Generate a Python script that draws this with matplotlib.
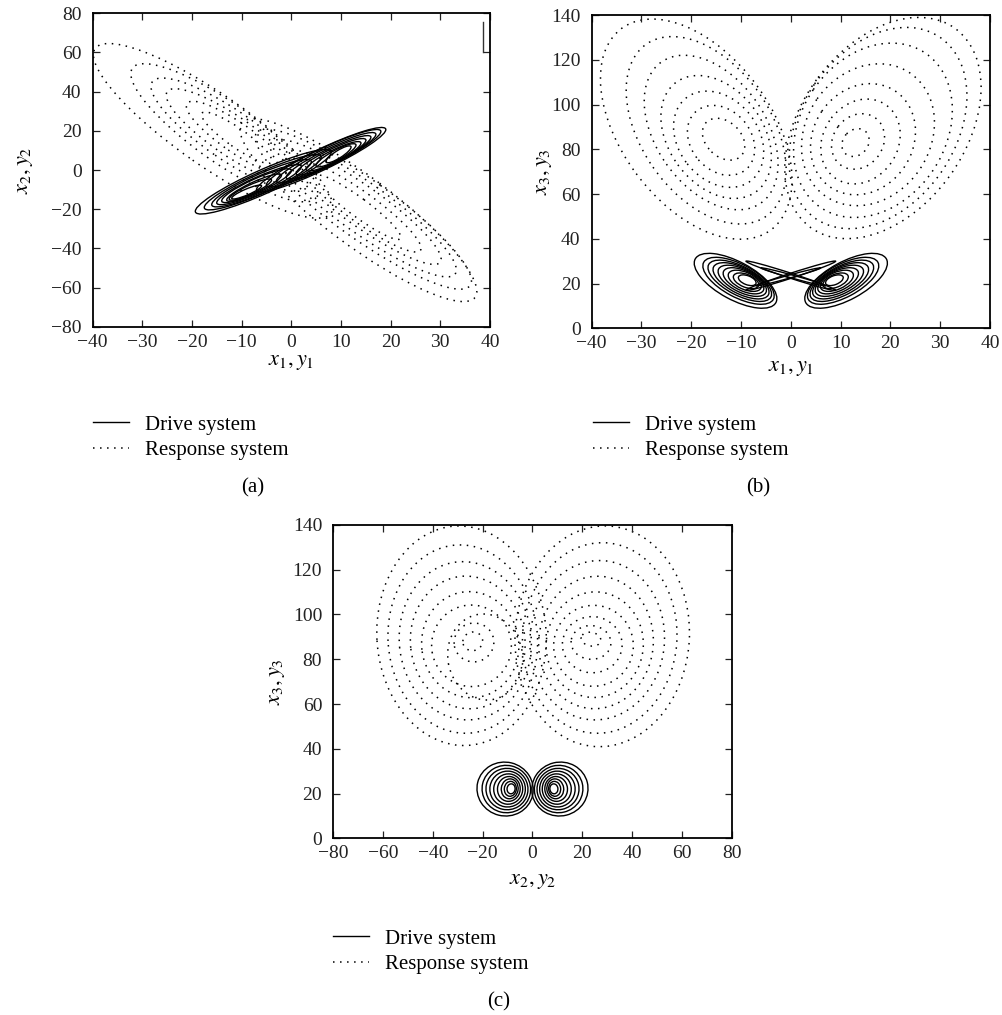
import math

import matplotlib
matplotlib.use("Agg")
import matplotlib.pyplot as plt
from matplotlib.lines import Line2D
from matplotlib.patches import Ellipse
from matplotlib.transforms import Affine2D

plt.rcParams["font.family"] = ["Liberation Serif", "DejaVu Serif"]
plt.rcParams["mathtext.fontset"] = "stix"
plt.rcParams["font.size"] = 14

FIG_W, FIG_H = 10.03, 10.15

# ---- trajectory loops -------------------------------------------------------
# Each loop of an attractor is stored as its two tips (data coords) and its
# half width (in x-axis units, measured on screen across the loop).

# (a)  x1,y1 vs x2,y2
A_DRIVE_LOOPS = [
    ((-19.3, -21.5), (8.0, 9.5), 2.4),
    ((-17.5, -19.5), (6.0, 7.0), 2.1),
    ((-16.0, -18.0), (4.0, 4.5), 1.9),
    ((-15.0, -17.0), (2.0, 2.0), 1.6),
    ((-14.0, -16.0), (0.0, 0.0), 1.4),
    ((-13.0, -15.5), (-2.0, -2.5), 1.1),
    ((-12.5, -15.0), (-4.0, -5.0), 0.9),
    ((-12.0, -14.5), (-6.0, -8.0), 0.6),
    ((19.0, 21.0), (-7.0, -10.5), 2.1),
    ((18.0, 20.0), (-5.0, -8.0), 1.95),
    ((17.0, 18.5), (-3.0, -6.0), 1.75),
    ((16.0, 17.0), (-1.0, -4.0), 1.55),
    ((15.0, 15.5), (1.0, -2.0), 1.4),
    ((14.0, 14.0), (3.0, 0.0), 1.2),
    ((13.0, 13.0), (5.0, 2.0), 1.0),
    ((12.0, 12.0), (7.0, 4.0), 0.75),
]
A_RESPONSE_LOOPS = [
    ((-39.5, 62.0), (8.0, -22.0), 7.2),
    ((-32.0, 52.0), (5.0, -14.0), 6.0),
    ((-28.0, 45.0), (3.0, -9.0), 5.0),
    ((-25.0, 40.0), (1.0, -5.0), 4.0),
    ((-21.0, 34.0), (-1.0, -1.0), 3.0),
    ((-18.0, 29.0), (-4.0, 4.0), 1.9),
    ((37.0, -65.0), (-10.0, 24.0), 6.9),
    ((36.0, -59.0), (-7.0, 19.0), 5.9),
    ((33.0, -53.0), (-4.0, 14.0), 5.0),
    ((30.0, -47.0), (-1.0, 9.0), 4.0),
    ((26.0, -41.0), (2.0, 3.0), 3.0),
    ((22.0, -35.0), (5.0, -3.0), 1.9),
]
A_STROKE_X = [38.6, 38.6]
A_STROKE_Y = [75.5, 60.0]

# (b)  x1,y1 vs x3,y3
B_DRIVE_LOOPS = [
    ((-19.2, 31.0), (-3.0, 11.5), 3.8),
    ((-17.5, 29.5), (-3.5, 13.0), 3.3),
    ((-16.5, 28.5), (-4.0, 14.0), 2.9),
    ((-15.5, 27.5), (-4.5, 15.0), 2.6),
    ((-14.5, 26.5), (-5.0, 16.0), 2.3),
    ((-13.5, 25.5), (-5.5, 17.0), 2.0),
    ((-12.5, 24.5), (-6.0, 18.0), 1.7),
    ((-11.5, 23.5), (-6.5, 19.0), 1.3),
    ((-10.5, 23.0), (-7.0, 20.0), 0.9),
    ((19.2, 31.0), (3.0, 11.5), 3.8),
    ((17.5, 29.5), (3.5, 13.0), 3.3),
    ((16.5, 28.5), (4.0, 14.0), 2.9),
    ((15.5, 27.5), (4.5, 15.0), 2.6),
    ((14.5, 26.5), (5.0, 16.0), 2.3),
    ((13.5, 25.5), (5.5, 17.0), 2.0),
    ((12.5, 24.5), (6.0, 18.0), 1.7),
    ((11.5, 23.5), (6.5, 19.0), 1.3),
    ((10.5, 23.0), (7.0, 20.0), 0.9),
    ((-9.0, 30.0), (9.0, 17.0), 0.5),
    ((9.0, 30.0), (-9.0, 17.0), 0.5),
    ((-6.0, 27.0), (7.0, 19.0), 0.3),
    ((6.0, 27.0), (-7.0, 19.0), 0.3),
]
B_RESPONSE_LOOPS = [
    ((-34.0, 134.0), (-4.0, 44.0), 15.0),
    ((-29.0, 127.0), (-5.0, 50.0), 13.0),
    ((-26.0, 119.0), (-6.0, 56.0), 11.0),
    ((-23.0, 110.0), (-7.0, 61.0), 9.5),
    ((-21.0, 103.0), (-8.0, 66.0), 8.0),
    ((-19.0, 97.0), (-9.0, 71.0), 6.0),
    ((-17.0, 92.0), (-10.0, 77.0), 3.5),
    ((33.0, 134.0), (4.0, 45.0), 16.5),
    ((30.0, 130.0), (5.0, 49.0), 15.5),
    ((27.0, 123.0), (6.0, 54.0), 14.5),
    ((24.0, 114.0), (7.0, 59.0), 12.5),
    ((21.0, 106.0), (8.0, 63.0), 10.0),
    ((19.0, 100.0), (9.0, 67.0), 7.5),
    ((17.0, 94.0), (10.0, 73.0), 5.0),
    ((15.0, 88.0), (11.0, 78.0), 2.5),
]

# (c)  x2,y2 vs x3,y3
C_DRIVE_LOOPS = [
    ((-22.0, 25.0), (0.0, 19.0), 10.8),
    ((-20.0, 24.5), (-1.0, 19.5), 9.5),
    ((-18.5, 24.0), (-2.0, 20.0), 8.3),
    ((-17.0, 23.5), (-3.0, 20.5), 7.2),
    ((-15.5, 23.0), (-4.0, 21.0), 6.1),
    ((-14.0, 22.8), (-5.0, 21.3), 5.0),
    ((-12.5, 22.6), (-5.8, 21.6), 4.0),
    ((-11.3, 22.4), (-6.5, 21.8), 3.0),
    ((-10.2, 22.3), (-7.0, 21.9), 2.0),
    ((22.0, 25.0), (0.0, 19.0), 10.8),
    ((20.0, 24.5), (1.0, 19.5), 9.5),
    ((18.5, 24.0), (2.0, 20.0), 8.3),
    ((17.0, 23.5), (3.0, 20.5), 7.2),
    ((15.5, 23.0), (4.0, 21.0), 6.1),
    ((14.0, 22.8), (5.0, 21.3), 5.0),
    ((12.5, 22.6), (5.8, 21.6), 4.0),
    ((11.3, 22.4), (6.5, 21.8), 3.0),
    ((10.2, 22.3), (7.0, 21.9), 2.0),
]
C_RESPONSE_LOOPS = [
    ((-31.0, 139.5), (-26.0, 41.5), 34.0),
    ((-31.0, 131.0), (-25.0, 47.0), 30.0),
    ((-30.0, 123.5), (-24.0, 53.0), 26.5),
    ((-29.0, 117.0), (-23.0, 58.0), 23.0),
    ((-28.0, 110.0), (-22.0, 63.0), 19.5),
    ((-27.0, 104.0), (-22.0, 68.0), 16.0),
    ((-22.0, 100.0), (-16.0, 62.0), 15.0),
    ((-25.0, 96.0), (-22.0, 79.0), 8.0),
    ((-25.0, 92.0), (-23.0, 84.0), 4.0),
    ((31.0, 139.5), (25.0, 41.0), 35.0),
    ((30.0, 132.0), (24.0, 47.0), 31.0),
    ((29.0, 124.0), (23.0, 53.0), 27.0),
    ((28.0, 117.0), (23.0, 58.0), 23.0),
    ((27.0, 110.0), (23.0, 63.0), 19.5),
    ((26.0, 104.0), (23.0, 68.0), 16.0),
    ((25.0, 99.0), (23.0, 74.0), 12.0),
    ((24.0, 95.0), (23.0, 80.0), 8.0),
    ((24.0, 92.0), (23.0, 86.0), 4.0),
]

A_XTICKS = [-40, -30, -20, -10, 0, 10, 20, 30, 40]
A_YTICKS = [-80, -60, -40, -20, 0, 20, 40, 60, 80]
B_XTICKS = A_XTICKS
B_YTICKS = [0, 20, 40, 60, 80, 100, 120, 140]
C_XTICKS = [-80, -60, -40, -20, 0, 20, 40, 60, 80]
C_YTICKS = B_YTICKS

DRIVE_STYLE = dict(color="black", linewidth=1.0, linestyle="-")
RESPONSE_STYLE = dict(color="black", linewidth=1.1, linestyle=(0, (1.0, 3.6)))


def iso_factor(ax):
    """y-units that span the same screen length as one x-unit."""
    box = ax.get_position()
    x0, x1 = ax.get_xlim()
    y0, y1 = ax.get_ylim()
    ux = (x1 - x0) / (box.width * FIG_W)
    uy = (y1 - y0) / (box.height * FIG_H)
    return uy / ux


def add_loops(ax, loops, style):
    k = iso_factor(ax)
    for (xa, ya), (xb, yb), hw in loops:
        dx = xb - xa
        dy = (yb - ya) / k
        length = math.hypot(dx, dy)
        ang = math.degrees(math.atan2(dy, dx))
        tr = Affine2D().scale(1, k).translate((xa + xb) / 2, (ya + yb) / 2) + ax.transData
        ax.add_patch(Ellipse((0, 0), length, 2 * hw, angle=ang, transform=tr,
                             fill=False, **style))


def style_axes(ax, xticks, yticks, xlabel, ylabel, xlab_y, ylab_x):
    ax.set_xlim(xticks[0], xticks[-1])
    ax.set_ylim(yticks[0], yticks[-1])
    ax.set_xticks(xticks)
    ax.set_yticks(yticks)
    ax.tick_params(direction="in", length=5, width=0.9, top=True, right=True,
                   labelsize=14, colors="#222222")
    ax.tick_params(axis="x", pad=5)
    ax.tick_params(axis="y", pad=8)
    for sp in ax.spines.values():
        sp.set_linewidth(1.3)
    ax.set_xlabel(xlabel, fontsize=16, va="center")
    ax.set_ylabel(ylabel, fontsize=16, va="center")
    ax.xaxis.set_label_coords(0.5, xlab_y)
    ax.yaxis.set_label_coords(ylab_x, 0.5)


def add_legend(ax, x_px, y_px):
    handles = [Line2D([], [], **DRIVE_STYLE), Line2D([], [], **RESPONSE_STYLE)]
    ax.legend(handles, ["Drive system", "Response system"], loc="upper left",
              bbox_to_anchor=(x_px / (FIG_W * 100), 1 - y_px / (FIG_H * 100)),
              bbox_transform=ax.figure.transFigure, frameon=False, borderpad=0,
              borderaxespad=0, handlelength=1.75, handletextpad=0.75,
              labelspacing=0.3, fontsize=15)


fig = plt.figure(figsize=(FIG_W, FIG_H), dpi=100)
ax_a = fig.add_axes([0.0924, 0.6781, 0.3961, 0.3088])
ax_b = fig.add_axes([0.5899, 0.6765, 0.3971, 0.3087])
ax_c = fig.add_axes([0.3323, 0.1741, 0.3972, 0.3087])

style_axes(ax_a, A_XTICKS, A_YTICKS, r"$x_1, y_1$", r"$x_2, y_2$", -0.115, -0.168)
style_axes(ax_b, B_XTICKS, B_YTICKS, r"$x_1, y_1$", r"$x_3, y_3$", -0.128, -0.118)
style_axes(ax_c, C_XTICKS, C_YTICKS, r"$x_2, y_2$", r"$x_3, y_3$", -0.139, -0.139)

add_loops(ax_a, A_RESPONSE_LOOPS, RESPONSE_STYLE)
add_loops(ax_a, A_DRIVE_LOOPS, DRIVE_STYLE)
ax_a.plot(A_STROKE_X, A_STROKE_Y, color="#333333", linewidth=1.0)

add_loops(ax_b, B_RESPONSE_LOOPS, RESPONSE_STYLE)
add_loops(ax_b, B_DRIVE_LOOPS, DRIVE_STYLE)

add_loops(ax_c, C_RESPONSE_LOOPS, RESPONSE_STYLE)
add_loops(ax_c, C_DRIVE_LOOPS, DRIVE_STYLE)

add_legend(ax_a, 93, 415)
add_legend(ax_b, 593, 415)
add_legend(ax_c, 333, 929)

fig.text(253 / 1003, 1 - 488 / 1015, "(a)", ha="center", va="center", fontsize=15)
fig.text(758 / 1003, 1 - 488 / 1015, "(b)", ha="center", va="center", fontsize=15)
fig.text(499 / 1003, 1 - 1002 / 1015, "(c)", ha="center", va="center", fontsize=15)

fig.savefig("out.png", dpi=100)
